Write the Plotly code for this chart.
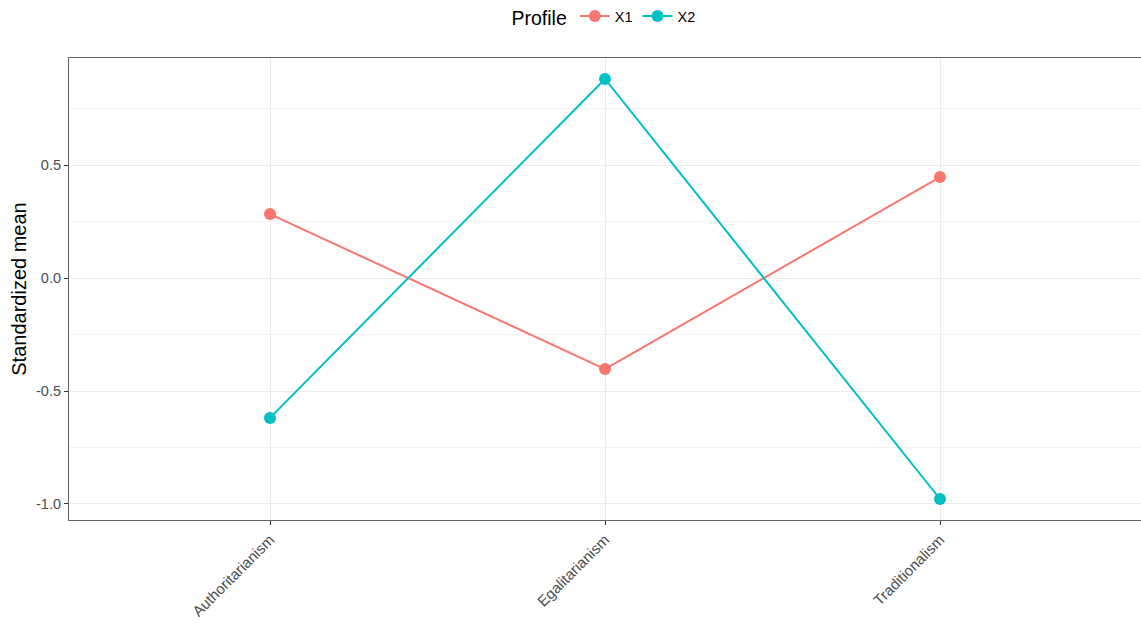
import plotly.graph_objects as go

# Profile means per scale
categories = ["Authoritarianism", "Egalitarianism", "Traditionalism"]
profiles = ["X1", "X2"]
x1_values = [0.283, -0.403, 0.447]
x2_values = [-0.619, 0.881, -0.978]
colors = {"X1": "#F8766D", "X2": "#00BFC4"}
y_ticks = [-1.0, -0.5, 0.0, 0.5]
y_tick_labels = ["-1.0", "-0.5", "0.0", "0.5"]

series = {"X1": x1_values, "X2": x2_values}
xpos = list(range(1, len(categories) + 1))

fig = go.Figure()
for name in profiles:
    fig.add_trace(go.Scatter(
        x=xpos, y=series[name], name=name, mode="lines+markers",
        line=dict(color=colors[name], width=2),
        marker=dict(color=colors[name], size=12),
    ))

all_vals = x1_values + x2_values
lo, hi = min(all_vals), max(all_vals)
pad = (hi - lo) * 0.05

fig.update_layout(
    width=1141, height=623,
    margin=dict(l=69, r=0, t=58, b=103),
    paper_bgcolor="white", plot_bgcolor="white",
    font=dict(family="Liberation Sans, Arial, sans-serif", color="#000000"),
    showlegend=True,
    legend=dict(
        orientation="h", x=0.5, xanchor="center", xref="paper",
        y=1, yanchor="top", yref="container",
        title=dict(text="Profile", font=dict(size=19.5, color="#000000")),
        font=dict(size=14.5, color="#000000"),
        itemwidth=30, tracegroupgap=0,
    ),
    xaxis=dict(
        range=[0.4, len(categories) + 0.6],
        tickmode="array", tickvals=xpos, ticktext=categories,
        tickangle=-45, tickfont=dict(size=15, color="#4d4d4d"),
        ticks="outside", ticklen=4, tickcolor="#333333",
        showgrid=True, gridcolor="#ebebeb", gridwidth=1,
        showline=True, linecolor="#666666", linewidth=1.2, mirror=True,
        zeroline=False,
    ),
    yaxis=dict(
        range=[lo - pad, hi + pad],
        tickmode="array", tickvals=y_ticks, ticktext=y_tick_labels,
        tickfont=dict(size=14.5, color="#4d4d4d"),
        ticks="outside", ticklen=4, tickcolor="#333333",
        showgrid=True, gridcolor="#ebebeb", gridwidth=1,
        minor=dict(tickvals=[-0.75, -0.25, 0.25, 0.75], showgrid=True,
                   gridcolor="#f2f2f2", gridwidth=1, ticks=""),
        showline=True, linecolor="#666666", linewidth=1.2, mirror=False,
        zeroline=False,
        title=dict(text="Standardized mean", font=dict(size=20, color="#000000"), standoff=4),
    ),
)

fig.write_html("out.html")
